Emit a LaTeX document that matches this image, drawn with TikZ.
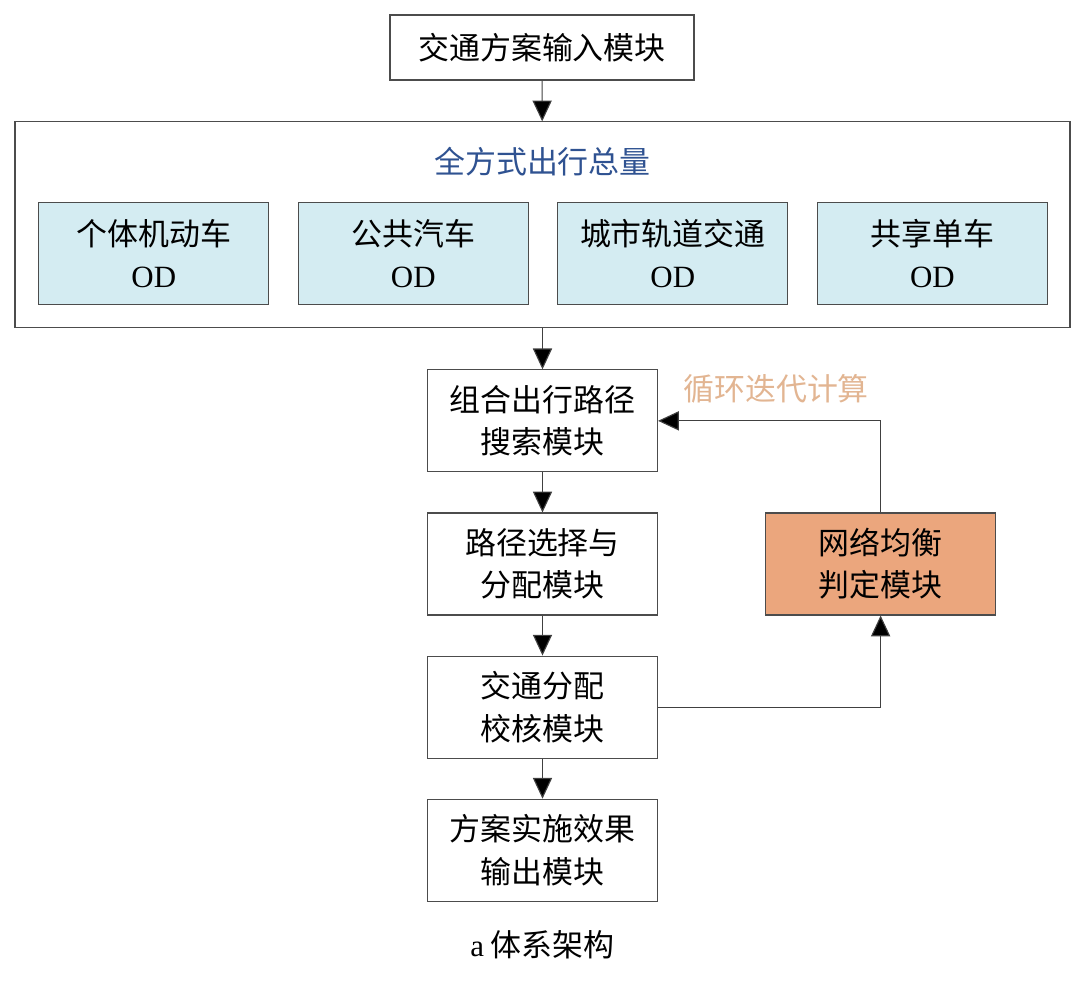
\documentclass[tikz,border=0pt]{standalone}
\usepackage{fontspec}
\setmainfont{Liberation Serif}
\newfontfamily\cjk{Noto Sans CJK SC}
\usetikzlibrary{arrows.meta,positioning}
\definecolor{odblue}{HTML}{D4ECF2}
\definecolor{judgeorange}{HTML}{EBA67D}
\definecolor{titleblue}{HTML}{2F5291}
\definecolor{looktan}{HTML}{E2B592}
\tikzset{
  box/.style     ={rectangle,draw=black!70,line width=0.8pt,inner sep=0pt,align=center,
                   font=\fontsize{22}{30}\selectfont\cjk},
  modbox/.style  ={box,minimum width=5.75cm,minimum height=2.55cm},
  odbox/.style   ={box,fill=odblue,minimum width=5.75cm,minimum height=2.55cm},
  txt/.style     ={inner sep=0pt,font=\fontsize{22}{30}\selectfont\cjk},
  wire/.style    ={->,draw=black!75,line width=0.8pt},
  >={Triangle[width=4.8mm,length=5.2mm,fill=black]}
}

\begin{document}
\begin{tikzpicture}[node distance=10mm and 7.1mm]
\useasboundingbox (-13.55,1.1875) rectangle (13.45,-23.3375);

% -------- input and total demand --------
\node[box, minimum width=7.6cm, minimum height=1.625cm] (inp) at (0,0) {交通方案输入模块};
\node[box, minimum width=26.375cm, minimum height=5.15cm, below=10.2mm of inp, xshift=0.0125cm] (tot) {};
\node[txt, text=titleblue] (ttl) at ([yshift=-1.0cm]tot.north) {全方式出行总量};

% -------- OD by mode --------
\node[odbox] (od2) at ([xshift=-3.23cm,yshift=-0.725cm]tot.center) {公共汽车\\{\rmfamily OD}};
\node[odbox, left=of od2] (od1) {个体机动车\\{\rmfamily OD}};
\node[odbox, right=of od2] (od3) {城市轨道交通\\{\rmfamily OD}};
\node[odbox, right=of od3] (od4) {共享单车\\{\rmfamily OD}};

% -------- modules --------
\node[modbox, below=10.2mm of tot] (path) {组合出行路径\\搜索模块};
\node[modbox, below=of path] (choice) {路径选择与\\分配模块};
\node[modbox, below=of choice] (check) {交通分配\\校核模块};
\node[modbox, below=of check] (outp) {方案实施效果\\输出模块};
\node[modbox, fill=judgeorange, right=26.75mm of choice] (judge) {网络均衡\\判定模块};

% wiring: main chain
\foreach \a/\b in {inp/tot,tot/path,path/choice,choice/check,check/outp}
  \draw[wire] (\a) -- (\b);

% -------- iteration loop --------
\draw[wire] (check.east) -| (judge.south);
\draw[wire] (judge.north) |- (path.east);
\node[txt, text=looktan, anchor=west] (loop) at ([xshift=6.25mm,yshift=8.1mm]path.east) {循环迭代计算};

% -------- caption --------
\node[txt, below=7.2mm of outp] (cap) {{\rmfamily a} 体系架构};

\end{tikzpicture}
\end{document}
